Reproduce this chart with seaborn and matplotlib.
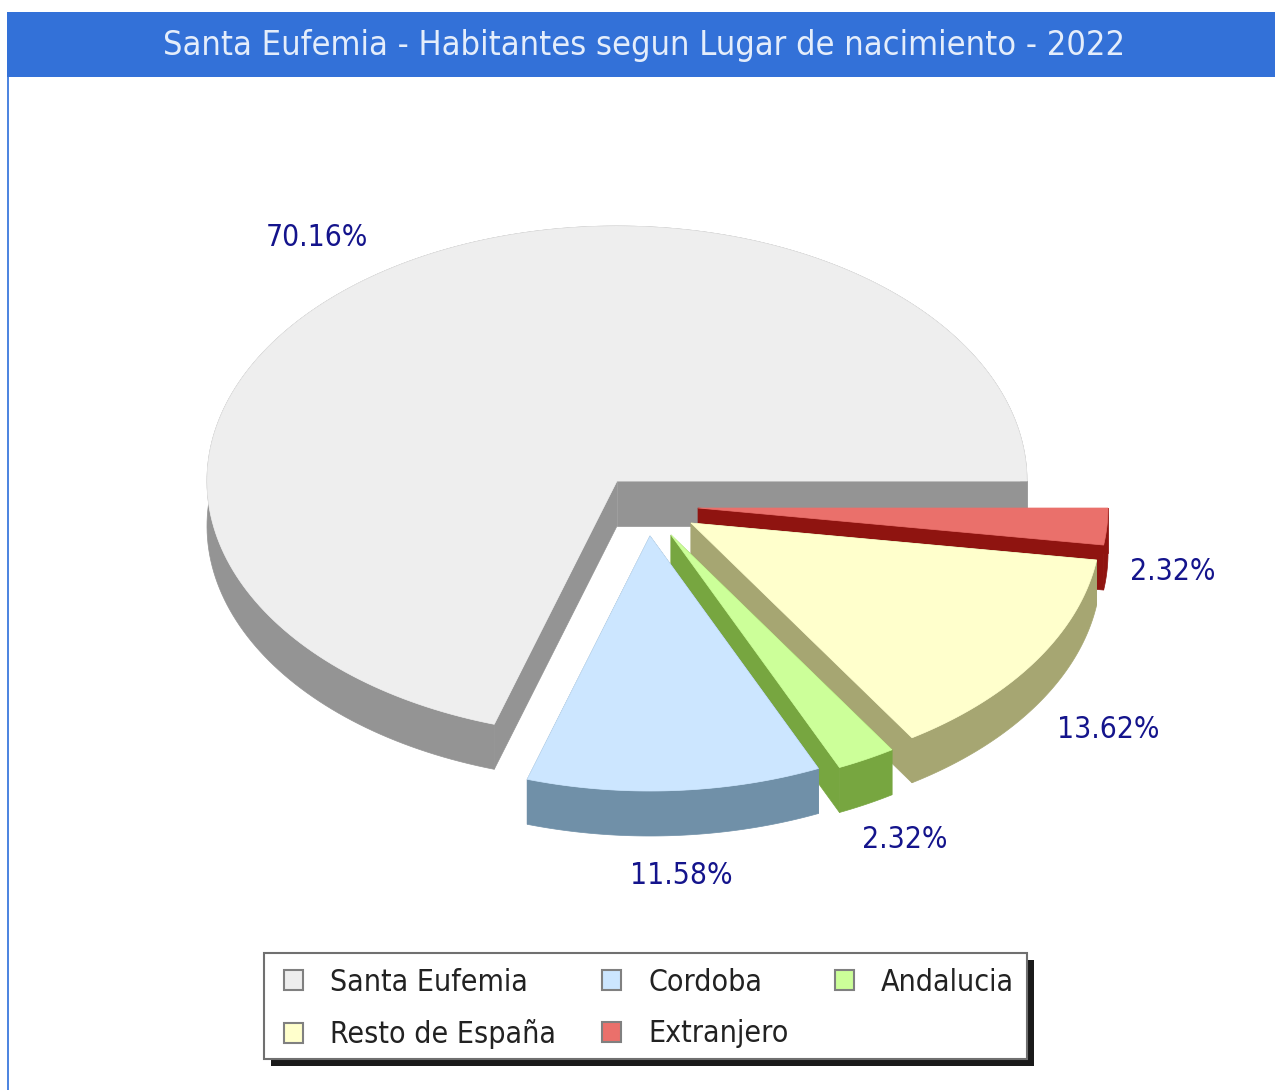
import numpy as np
import matplotlib
matplotlib.use("Agg")
import matplotlib.pyplot as plt
from matplotlib.patches import Patch, Rectangle
import seaborn as sns

TITLE = "Santa Eufemia - Habitantes segun Lugar de nacimiento - 2022"
categories = ["Santa Eufemia", "Cordoba", "Andalucia", "Resto de España", "Extranjero"]
shares = [70.16, 11.58, 2.32, 13.62, 2.32]
labels = ["70.16%", "11.58%", "2.32%", "13.62%", "2.32%"]
top_colors = ["#EEEEEE", "#CCE6FF", "#CCFF99", "#FFFFCC", "#EA706B"]
side_colors = ["#949494", "#7090A8", "#77A640", "#A6A672", "#8F1410"]
tips = [(617, 481), (650, 536), (671, 535), (691, 523), (698, 508)]
label_pos = [(317, 237), (681, 876), (905, 839), (1108, 730), (1173, 572)]
draw_order = [0, 4, 3, 2, 1]
legend_order = [0, 3, 1, 4, 2]

RX, RY, DEPTH = 410, 255, 45
LABEL_COLOR = "#14148C"
BAR_COLOR = "#3371D8"

sns.set_theme(style="white")
plt.rcParams["font.family"] = ["DejaVu Sans"]
top_pal = sns.color_palette(top_colors)
side_pal = sns.color_palette(side_colors)

fig = plt.figure(figsize=(12.75, 10.9), dpi=100, facecolor="white")
ax = fig.add_axes([0, 0, 1, 1])
ax.set_xlim(0, 1275)
ax.set_ylim(1090, 0)
ax.axis("off")

# frame and title bar
ax.add_patch(Rectangle((7, 12), 1268, 65, fc=BAR_COLOR, ec="none", zorder=1))
ax.add_patch(Rectangle((7, 77), 2, 1013, fc="#4F86E0", ec="none", zorder=1))
ax.text(644, 45, TITLE, color="#E4EDFB", fontsize=24.7, stretch="condensed",
        ha="center", va="center", zorder=2)

edges = np.concatenate([[0], np.cumsum(shares)]) / np.sum(shares) * 360.0

for z, i in enumerate(draw_order):
    cx, cy = tips[i]
    th = np.radians(np.linspace(edges[i], edges[i + 1], 200))
    ax_x = cx + RX * np.cos(th)
    ax_y = cy - RY * np.sin(th)
    base = 3 + z * 2
    # curved outer wall as one shape, plus the two straight cut walls
    ax.fill(np.r_[ax_x, ax_x[::-1]], np.r_[ax_y, ax_y[::-1] + DEPTH],
            color=side_pal[i], lw=0.5, zorder=base)
    for j in (0, -1):
        ax.fill([cx, ax_x[j], ax_x[j], cx],
                [cy, ax_y[j], ax_y[j] + DEPTH, cy + DEPTH],
                color=side_pal[i], lw=0.5, zorder=base)
    ax.fill(np.r_[cx, ax_x], np.r_[cy, ax_y], color=top_pal[i], lw=0.5, zorder=base + 1)

for (x, y), t in zip(label_pos, labels):
    ax.text(x, y, t, color=LABEL_COLOR, fontsize=21.5, stretch="condensed",
            ha="center", va="center", zorder=30)

# legend: shadow, box, then entries
ax.add_patch(Rectangle((271, 960), 763, 106, fc="#1A1A1A", ec="none", zorder=20))
ax.add_patch(Rectangle((264, 953), 763, 106, fc="white", ec="#707070", lw=1.5, zorder=21))
handles = [Patch(fc=top_pal[i], ec="#808080", lw=1.5, label=categories[i]) for i in legend_order]
leg = ax.legend(handles=handles, ncol=3, loc="center",
                bbox_to_anchor=(649 / 1275, 1 - 1008.5 / 1090),
                frameon=False, labelcolor="#222222",
                prop={"size": 21.7, "stretch": "condensed"},
                handlelength=0.63, handleheight=0.63, handletextpad=0.9,
                columnspacing=1.53, labelspacing=0.75, borderpad=0.62)
leg.set_zorder(25)

fig.savefig("out.png", dpi=100)
